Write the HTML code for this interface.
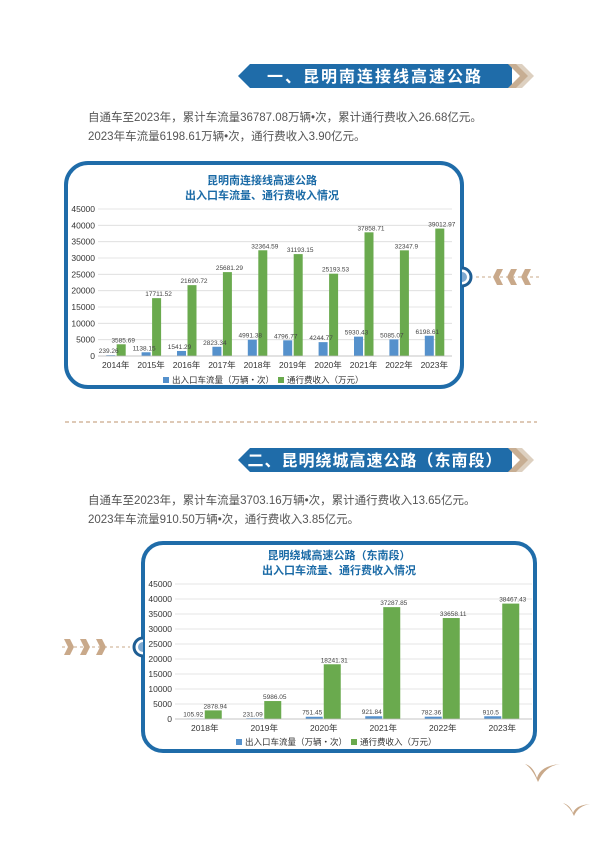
<!DOCTYPE html>
<html><head><meta charset="utf-8"><style>
html,body{margin:0;padding:0;background:#fff;}
svg{display:block;font-family:"Liberation Sans","Noto Sans CJK SC",sans-serif;}
</style></head><body>
<svg id="s" width="600" height="842" viewBox="0 0 600 842" xmlns="http://www.w3.org/2000/svg">
<!-- banner 1 -->
<polygon points="250,64 512,64 512,88 250,88 238,76" fill="#1f6ca9"/>
<polygon points="508,64 518,64 530,76 518,88 508,88 520,76" fill="#c7ae93"/>
<polygon points="516,64 522,64 534,76 522,88 516,88 528,76" fill="#ddd0c0"/>
<text x="375" y="82" fill="#fff" font-size="16" font-weight="bold" text-anchor="middle" letter-spacing="2">一、昆明南连接线高速公路</text>
<text x="88" y="121" fill="#555" font-size="11.5">自通车至2023年，累计车流量36787.08万辆•次，累计通行费收入26.68亿元。</text>
<text x="88" y="140" fill="#555" font-size="11.5">2023年车流量6198.61万辆•次，通行费收入3.90亿元。</text>
<!-- chart1 box -->
<rect x="66" y="163" width="396" height="224" rx="22" fill="#fff" stroke="#1f6ca9" stroke-width="4"/>
<line x1="476" y1="277" x2="540" y2="277" stroke="#c9a98a" stroke-width="1" stroke-dasharray="3,3"/>
<path d="M462,268 A9,9 0 0 1 462,286" fill="#fff" stroke="#1f5e94" stroke-width="3"/>
<path d="M462,272 A5,5 0 0 1 462,282 Z" fill="#7fa9d0"/>
<g fill="#c9a98a">
<polygon points="497,269 503,269 499,277 503,285 497,285 493,277"/>
<polygon points="511,269 517,269 513,277 517,285 511,285 507,277"/>
<polygon points="525,269 531,269 527,277 531,285 525,285 521,277"/>
</g>
<text x="262" y="184" fill="#1a6aa6" font-size="11" font-weight="bold" text-anchor="middle">昆明南连接线高速公路</text>
<text x="262" y="199" fill="#1a6aa6" font-size="11" font-weight="bold" text-anchor="middle">出入口车流量、通行费收入情况</text>
<g id="c1"></g>
<!-- separator -->
<line x1="65" y1="422" x2="537" y2="422" stroke="#c9a98a" stroke-width="1.2" stroke-dasharray="4,3"/>
<!-- banner 2 -->
<polygon points="250,448 512,448 512,472 250,472 238,460" fill="#1f6ca9"/>
<polygon points="508,448 518,448 530,460 518,472 508,472 520,460" fill="#c7ae93"/>
<polygon points="516,448 522,448 534,460 522,472 516,472 528,460" fill="#ddd0c0"/>
<text x="375" y="466" fill="#fff" font-size="16" font-weight="bold" text-anchor="middle" letter-spacing="1">二、昆明绕城高速公路（东南段）</text>
<text x="88" y="504" fill="#555" font-size="11.5">自通车至2023年，累计车流量3703.16万辆•次，累计通行费收入13.65亿元。</text>
<text x="88" y="523" fill="#555" font-size="11.5">2023年车流量910.50万辆•次，通行费收入3.85亿元。</text>
<!-- chart2 box -->
<rect x="143" y="543" width="392" height="208" rx="20" fill="#fff" stroke="#1f6ca9" stroke-width="4"/>
<line x1="62" y1="647" x2="130" y2="647" stroke="#c9a98a" stroke-width="1" stroke-dasharray="3,3"/>
<path d="M143,638 A9,9 0 0 0 143,656" fill="#fff" stroke="#1f5e94" stroke-width="3"/>
<path d="M143,642 A5,5 0 0 0 143,652 Z" fill="#7fa9d0"/>
<g fill="#c9a98a">
<polygon points="64,639 70,639 74,647 70,655 64,655 68,647"/>
<polygon points="80,639 86,639 90,647 86,655 80,655 84,647"/>
<polygon points="96,639 102,639 106,647 102,655 96,655 100,647"/>
</g>
<text x="339" y="559" fill="#1a6aa6" font-size="11" font-weight="bold" text-anchor="middle">昆明绕城高速公路（东南段）</text>
<text x="339" y="574" fill="#1a6aa6" font-size="11" font-weight="bold" text-anchor="middle">出入口车流量、通行费收入情况</text>
<g id="c2"></g>
<!-- birds -->
<path d="M525,764 Q533,766 537,778 Q540,766 560,764 Q545,766 538,782 Q532,768 525,764Z" fill="#c9a98a"/>
<path d="M563,803 Q570,805 573,813 Q576,805 590,804 Q578,806 574,816 Q570,807 563,803Z" fill="#c9a98a"/>
</svg>
<script>
function chart(g,o){
  var ns="http://www.w3.org/2000/svg",s="";
  for(var k=0;k<=9;k++){
    var y=o.y0-k*5000/45000*o.h;
    s+='<line x1="'+o.x0+'" x2="'+(o.x0+o.w)+'" y1="'+y+'" y2="'+y+'" stroke="#dcdcdc" stroke-width="0.8"/>';
    s+='<text x="'+(o.x0-3)+'" y="'+(y+3)+'" font-size="8.5" fill="#333" text-anchor="end">'+(k*5000)+'</text>';
  }
  var n=o.yrs.length,cw=o.w/n;
  for(var i=0;i<n;i++){
    var c=o.x0+cw*i+cw/2;
    var hb=o.b[i]/45000*o.h,hg=o.gr[i]/45000*o.h;
    s+='<rect x="'+(c+o.bo)+'" y="'+(o.y0-hb)+'" width="'+o.bw+'" height="'+hb+'" fill="#5591cc"/>';
    s+='<rect x="'+(c+o.go)+'" y="'+(o.y0-hg)+'" width="'+o.bw+'" height="'+hg+'" fill="#6aaa4e"/>';
    s+='<text x="'+(c+o.bo+o.bw/2-2)+'" y="'+(o.y0-hb-2)+'" font-size="6.5" fill="#444" text-anchor="middle">'+o.bl[i]+'</text>';
    s+='<text x="'+(c+o.go+o.bw/2+2)+'" y="'+(o.y0-hg-2)+'" font-size="6.5" fill="#444" text-anchor="middle">'+o.gl[i]+'</text>';
    s+='<text x="'+c+'" y="'+(o.y0+12)+'" font-size="8.5" fill="#333" text-anchor="middle">'+o.yrs[i]+'年</text>';
  }
  s+='<line x1="'+o.x0+'" x2="'+(o.x0+o.w)+'" y1="'+o.y0+'" y2="'+o.y0+'" stroke="#bbb" stroke-width="0.8"/>';
  var lx=o.lx,ly=o.ly;
  s+='<rect x="'+lx+'" y="'+(ly-6)+'" width="6" height="6" fill="#5591cc"/><text x="'+(lx+9)+'" y="'+ly+'" font-size="8.5" fill="#333">出入口车流量（万辆・次）</text>';
  s+='<rect x="'+(lx+115)+'" y="'+(ly-6)+'" width="6" height="6" fill="#6aaa4e"/><text x="'+(lx+124)+'" y="'+ly+'" font-size="8.5" fill="#333">通行费收入（万元）</text>';
  document.getElementById(g).innerHTML=s;
}
chart("c1",{x0:98,w:354,y0:356,h:147,bw:9,bo:-9.5,go:1,lx:163,ly:383,
 yrs:[2014,2015,2016,2017,2018,2019,2020,2021,2022,2023],
 b:[239.26,1138.15,1541.29,2823.34,4991.38,4796.77,4244.77,5930.43,5085.07,6198.61],
 gr:[3585.69,17711.52,21690.72,25681.29,32364.59,31193.15,25193.53,37858.71,32347.9,39012.97],
 bl:["239.26","1138.15","1541.29","2823.34","4991.38","4796.77","4244.77","5930.43","5085.07","6198.61"],
 gl:["3585.69","17711.52","21690.72","25681.29","32364.59","31193.15","25193.53","37858.71","32347.9","39012.97"]});
chart("c2",{x0:175,w:357,y0:719,h:135,bw:17,bo:-18,go:0,lx:236,ly:745,
 yrs:[2018,2019,2020,2021,2022,2023],
 b:[105.92,231.09,751.45,921.84,782.36,910.5],
 gr:[2878.94,5986.05,18241.31,37287.85,33658.11,38467.43],
 bl:["105.92","231.09","751.45","921.84","782.36","910.5"],
 gl:["2878.94","5986.05","18241.31","37287.85","33658.11","38467.43"]});
</script>
</body></html>
